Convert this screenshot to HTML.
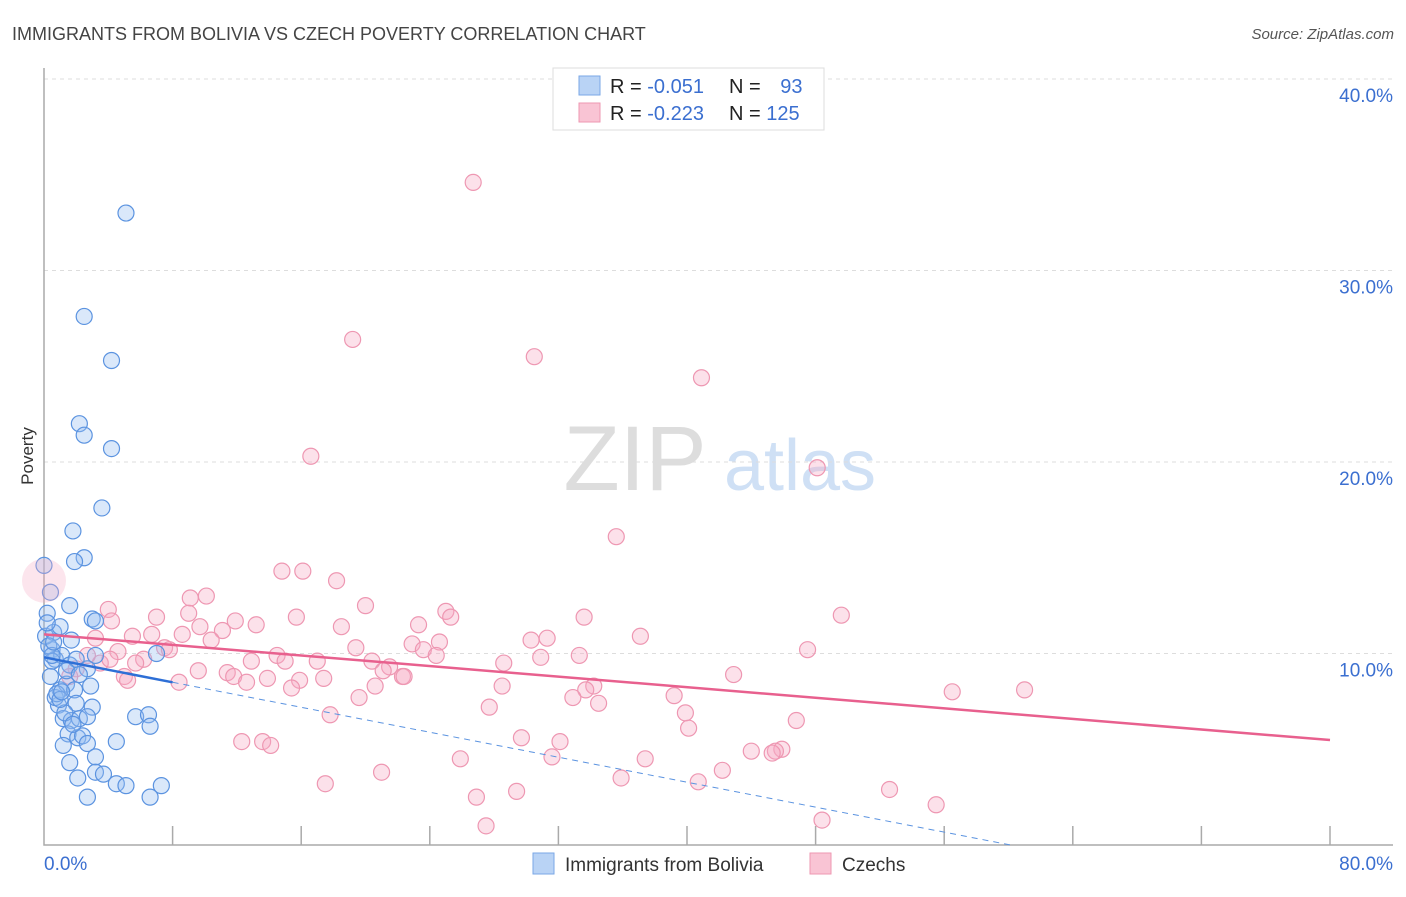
<!DOCTYPE html>
<html><head><meta charset="utf-8"><style>
body{margin:0;background:#fff;font-family:"Liberation Sans",sans-serif;}
svg text{font-family:"Liberation Sans",sans-serif;}
</style></head><body>
<svg id="chart" width="1406" height="892" xmlns="http://www.w3.org/2000/svg">
<text x="12" y="40" font-size="18" fill="#444">IMMIGRANTS FROM BOLIVIA VS CZECH POVERTY CORRELATION CHART</text>
<text x="1394" y="39" font-size="15" fill="#555" font-style="italic" text-anchor="end">Source: ZipAtlas.com</text>
<text transform="translate(33,456) rotate(-90)" font-size="17" fill="#333" text-anchor="middle">Poverty</text>
<g>
<text x="635" y="490" font-size="92" fill="#ddd" font-family="Liberation Serif" text-anchor="middle">ZIP</text>
<text x="800" y="490" font-size="72" fill="#cfe0f5" text-anchor="middle">atlas</text>
</g>
<g id="grid"></g>
<g id="axes"></g>
<g id="pts"></g>
<g id="lines"></g>
<g>
<rect x="553" y="68" width="271" height="62" fill="#fff" stroke="#ddd"/>
<rect x="579" y="76" width="21" height="19" fill="#b9d3f5" stroke="#7aa7e6"/>
<rect x="579" y="103" width="21" height="19" fill="#f9c4d4" stroke="#ee97b2"/>
<text x="610" y="93" font-size="20" fill="#222">R = <tspan fill="#3b6fd0">-0.051</tspan></text>
<text x="729" y="93" font-size="20" fill="#222">N = <tspan fill="#3b6fd0" dx="14">93</tspan></text>
<text x="610" y="120" font-size="20" fill="#222">R = <tspan fill="#3b6fd0">-0.223</tspan></text>
<text x="729" y="120" font-size="20" fill="#222">N = <tspan fill="#3b6fd0">125</tspan></text>
</g>
<g>
<rect x="533" y="853" width="21" height="21" fill="#b9d3f5" stroke="#7aa7e6"/>
<text x="565" y="871" font-size="19" fill="#333">Immigrants from Bolivia</text>
<rect x="810" y="853" width="21" height="21" fill="#f9c4d4" stroke="#ee97b2"/>
<text x="842" y="871" font-size="19" fill="#333">Czechs</text>
</g>
</svg>
<script>
const blueX=[5.1,2.5,4.2,2.2,2.5,4.2,3.6,1.8,2.5,1.9,0,0.4,1.6,3.0,3.2,0.5,0.7,1.1,1.6,2.0,3.2,2.7,7.0,1.0,1.4,1.9,2.9,0.9,2.0,3.0,1.2,1.7,2.2,2.7,5.7,6.5,6.6,1.5,2.1,2.4,1.2,2.7,4.5,3.2,1.6,2.1,3.2,3.7,4.5,5.1,7.3,2.7,6.6,0.4,0.7,0.1,0.6,0.2,1.0,0.5,1.4,2.2,1.7,0.3,0.8,1.3,0.2,0.5,1.0,1.8,0.6,1.1];
const blueY=[33.0,27.6,25.3,22.0,21.4,20.7,17.6,16.4,15.0,14.8,14.6,13.2,12.5,11.8,11.7,10.2,9.7,9.9,9.4,9.7,9.9,9.2,10.0,8.1,8.4,8.1,8.3,7.3,7.4,7.2,6.6,6.5,6.6,6.7,6.7,6.8,6.2,5.8,5.6,5.7,5.2,5.3,5.4,4.6,4.3,3.5,3.8,3.7,3.2,3.1,3.1,2.5,2.5,8.8,7.7,10.9,11.1,12.1,11.4,9.6,9.1,8.9,10.7,10.4,7.9,6.9,11.6,9.9,7.6,6.3,10.6,8.0];
const pinkX=[26.7,19.2,30.5,40.9,16.6,48.1,35.6,14.8,16.1,18.2,10.1,9.1,4.0,20.0,25.0,7.0,9.0,11.9,15.7,25.3,33.6,49.6,4.2,23.3,18.5,9.7,13.2,11.1,8.6,6.7,37.1,3.2,5.5,10.4,22.9,24.6,31.3,30.3,19.4,23.6,47.5,7.5,7.8,14.5,24.4,33.3,30.9,4.6,6.2,15.0,17.0,20.4,12.9,3.5,5.7,28.6,21.5,21.1,9.6,11.4,11.8,13.9,22.3,22.4,42.9,5.0,5.2,8.4,12.6,15.9,17.4,20.6,15.4,28.5,34.2,61.0,56.5,33.7,32.9,19.6,39.2,34.5,27.7,39.9,17.8,46.8,40.1,29.7,12.3,13.6,14.1,32.1,44.0,45.9,45.5,45.3,31.6,37.4,25.9,42.2,21.0,35.9,40.7,17.5,29.4,52.6,26.9,55.5,48.4,27.5,2.7,4.1,2.0,1.6];
const pinkY=[34.6,26.4,25.5,24.4,20.3,19.7,16.1,14.3,14.3,13.8,13.0,12.9,12.3,12.5,12.2,11.9,12.1,11.7,11.9,11.9,11.9,12.0,11.7,11.5,11.4,11.4,11.5,11.2,11.0,11.0,10.9,10.8,10.9,10.7,10.5,10.6,10.8,10.7,10.3,10.2,10.2,10.3,10.2,9.9,9.9,9.9,9.8,10.1,9.7,9.6,9.6,9.6,9.6,9.5,9.5,9.5,9.3,9.1,9.1,9.0,8.8,8.7,8.8,8.8,8.9,8.8,8.6,8.5,8.5,8.6,8.7,8.3,8.2,8.3,8.3,8.1,8.0,8.1,7.7,7.7,7.8,7.4,7.2,6.9,6.8,6.5,6.1,5.6,5.4,5.4,5.2,5.4,4.9,5.0,4.9,4.8,4.6,4.5,4.5,3.9,3.8,3.5,3.3,3.2,2.8,2.9,2.5,2.1,1.3,1.0,9.9,9.7,9.2,8.8];
const yTicks=[10,20,30,40];
const yTickLabels=["10.0%","20.0%","30.0%","40.0%"];
const xTicks=[0,8,16,24,32,40,48,56,64,72,80];
const blueTrend=[9.8,-0.163];
const pinkTrend=[11.0,-0.069];
const X=v=>44+v/80*1286, Y=v=>845-v*19.15;
const NS="http://www.w3.org/2000/svg";
function mk(p,t,a){const e=document.createElementNS(NS,t);for(const k in a)e.setAttribute(k,a[k]);document.getElementById(p).appendChild(e);return e;}
yTicks.forEach((t,i)=>{
 const g=mk('grid','line',{x1:44,x2:1393,y1:Y(t),y2:Y(t),stroke:'#ddd','stroke-dasharray':'4,4'});
 
 
 const l=mk('grid','text',{x:1393,y:Y(t)+23,'font-size':19,fill:'#3b6fd0','text-anchor':'end'});
 l.textContent=yTickLabels[i];
 
 
});
const ax=mk('axes','path',{d:'M44,68V845H1393',fill:'none',stroke:'#aaa','stroke-width':1.5});


xTicks.slice(1).forEach(t=>{
 const k=mk('axes','line',{x1:X(t),x2:X(t),y1:826,y2:845,stroke:'#aaa','stroke-width':1.5});
 
 
});
const x0=mk('axes','text',{x:44,y:870,'font-size':19,fill:'#3b6fd0'});x0.textContent='0.0%';


const x1=mk('axes','text',{x:1393,y:870,'font-size':19,fill:'#3b6fd0','text-anchor':'end'});x1.textContent='80.0%';


pinkX.forEach((v,i)=>{
 const c=mk('pts','circle',{cx:X(v),cy:Y(pinkY[i]),r:8,fill:'rgba(246,170,195,0.35)',stroke:'#ee97b2','stroke-width':1.2});
 
 
});
blueX.forEach((v,i)=>{
 const c=mk('pts','circle',{cx:X(v),cy:Y(blueY[i]),r:8,fill:'rgba(150,190,240,0.35)',stroke:'#5b93e0','stroke-width':1.2});
 
 
});
const big=mk('pts','circle',{cx:X(0),cy:Y(13.8),r:22,fill:'rgba(246,170,195,0.3)',stroke:'none'});


const pl=mk('lines','line',{x1:X(0),y1:Y(pinkTrend[0]),x2:X(80),y2:Y(pinkTrend[0]+80*pinkTrend[1]),stroke:'#e8608e','stroke-width':2.5});


const bl=mk('lines','line',{x1:X(0),y1:Y(blueTrend[0]),x2:X(8),y2:Y(blueTrend[0]+8*blueTrend[1]),stroke:'#2e6fd6','stroke-width':2.5});


const xe=-blueTrend[0]/blueTrend[1];
const bd=mk('lines','line',{x1:X(8),y1:Y(blueTrend[0]+8*blueTrend[1]),x2:X(xe),y2:Y(0),stroke:'#5b93e0','stroke-width':1,'stroke-dasharray':'6,5'});


</script>
</body></html>
